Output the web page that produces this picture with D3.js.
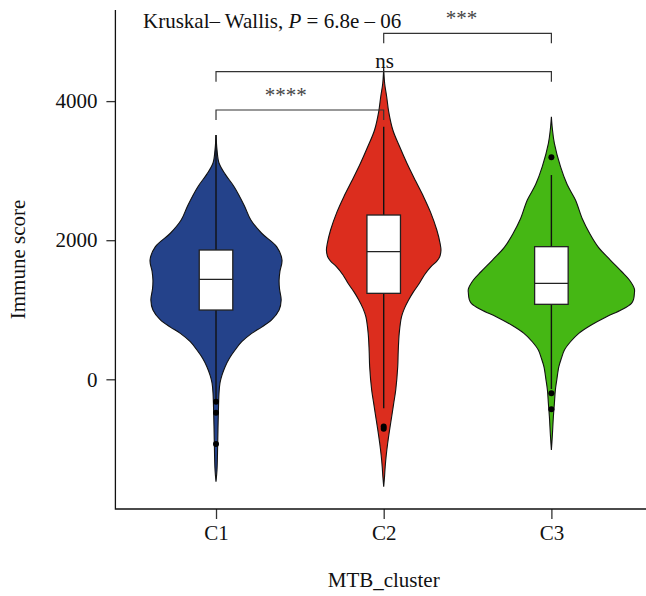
<!DOCTYPE html>
<html>
<head>
<meta charset="utf-8">
<script src="https://cdn.jsdelivr.net/npm/d3@7"></script>
<style>
  html, body { margin: 0; padding: 0; background: #fff; }
  svg { display: block; }
  text { font-family: "Liberation Serif", "DejaVu Serif", serif; }
</style>
</head>
<body>
<svg id="chart" width="646" height="596"></svg>
<script>
// ---- data -------------------------------------------------------------
const clusters = ["C1", "C2", "C3"];
const clusterColors = ["#24428a", "#dc2d1e", "#45b714"];
const yTicks = [0, 2000, 4000];

// relative violin density (0..1) at each Immune score value, per cluster
const densityC1 = [[3513,0],[3300,0.012],[3110,0.036],[2950,0.11],[2766,0.22],[2500,0.34],[2290,0.42],[2100,0.55],[1907,0.73],[1715,0.795],[1550,0.77],[1428,0.76],[1300,0.765],[1140,0.785],[996,0.76],[853,0.67],[750,0.55],[661,0.43],[540,0.31],[421,0.23],[300,0.16],[181,0.11],[60,0.072],[-53,0.048],[-200,0.036],[-400,0.03],[-700,0.024],[-1060,0.018],[-1300,0.012],[-1472,0]];
const densityC2 = [[4476,0],[4250,0.012],[4063,0.036],[3850,0.06],[3585,0.11],[3350,0.19],[3106,0.28],[2850,0.385],[2626,0.48],[2400,0.565],[2147,0.64],[1950,0.68],[1855,0.69],[1763,0.675],[1700,0.64],[1619,0.57],[1500,0.49],[1380,0.43],[1260,0.36],[1140,0.3],[1020,0.25],[900,0.215],[661,0.187],[400,0.175],[181,0.169],[-154,0.145],[-350,0.12],[-538,0.096],[-720,0.072],[-920,0.048],[-1100,0.03],[-1257,0.018],[-1400,0.01],[-1544,0]];
const densityC3 = [[3776,0],[3600,0.012],[3393,0.036],[3057,0.11],[2800,0.19],[2578,0.29],[2300,0.375],[2099,0.46],[1900,0.565],[1715,0.71],[1550,0.845],[1428,0.94],[1300,1.0],[1236,1.0],[1150,0.99],[1093,0.965],[1000,0.845],[900,0.665],[780,0.48],[661,0.33],[540,0.23],[421,0.157],[300,0.12],[181,0.09],[0,0.066],[-154,0.048],[-350,0.036],[-538,0.024],[-800,0.012],[-1017,0]];

// box-plot statistics: [lower whisker, Q1, median, Q3, upper whisker]
const boxC1 = [-290, 996, 1438, 1859, 3513];
const boxC2 = [-417, 1236, 1835, 2362, 3632];
const boxC3 = [-140, 1078, 1380, 1907, 2937];
const outliersC1 = [-322, -480, -930];
const outliersC2 = [-680, -712];
const outliersC3 = [3192, -202, -431];

// pairwise comparisons: [from, to, label] and bracket heights (Immune score units)
const comparisons = [["C1", "C2", "****"], ["C1", "C3", "ns"], ["C2", "C3", "***"]];
const bracketValues = [3872, 4423, 4975];
const testLabel = ["Kruskal\u2013 Wallis, ", "P", " = 6.8e \u2013 06"];

// ---- layout ------------------------------------------------------------
const svg = d3.select("#chart");
const plotLeft = 115.4, plotRight = 652, plotTop = 10, plotBottom = 509;
const fontSize = 21;

const x = d3.scalePoint().domain(clusters).range([plotLeft, plotRight]).padding(0.6);
const step = x.step();
const y = d3.scaleLinear().domain([-1865, 5310]).range([plotBottom, plotTop]);
const w = d3.scaleLinear().domain([0, 1]).range([0, 0.495 * step]);
const boxHalf = 0.1 * step;

const groups = clusters.map((c, i) => ({
  name: c,
  color: clusterColors[i],
  density: [densityC1, densityC2, densityC3][i],
  box: [boxC1, boxC2, boxC3][i],
  outliers: [outliersC1, outliersC2, outliersC3][i]
}));

// ---- violins -----------------------------------------------------------
const g = svg.append("g");
groups.forEach(d => {
  const cx = x(d.name);
  const area = d3.area()
    .y(p => y(p[0]))
    .x0(p => cx - w(p[1]))
    .x1(p => cx + w(p[1]))
    .curve(d3.curveCatmullRom.alpha(0.5));
  g.append("path")
    .attr("d", area(d.density))
    .attr("fill", d.color)
    .attr("stroke", "#111")
    .attr("stroke-width", 1.1);

  // whiskers
  g.append("line")
    .attr("x1", cx).attr("x2", cx)
    .attr("y1", y(d.box[3])).attr("y2", y(d.box[4]))
    .attr("stroke", "#111").attr("stroke-width", 1.4);
  g.append("line")
    .attr("x1", cx).attr("x2", cx)
    .attr("y1", y(d.box[1])).attr("y2", y(d.box[0]))
    .attr("stroke", "#111").attr("stroke-width", 1.4);

  // box
  g.append("rect")
    .attr("x", cx - boxHalf)
    .attr("y", y(d.box[3]))
    .attr("width", 2 * boxHalf)
    .attr("height", y(d.box[1]) - y(d.box[3]))
    .attr("fill", "#fff")
    .attr("stroke", "#222")
    .attr("stroke-width", 1.3);
  g.append("line")
    .attr("x1", cx - boxHalf).attr("x2", cx + boxHalf)
    .attr("y1", y(d.box[2])).attr("y2", y(d.box[2]))
    .attr("stroke", "#222").attr("stroke-width", 1.3);

  // outliers
  g.selectAll(null).data(d.outliers).enter().append("circle")
    .attr("cx", cx).attr("cy", v => y(v)).attr("r", 3)
    .attr("fill", "#000");
});

// ---- axes --------------------------------------------------------------
const yAxis = svg.append("g")
  .attr("transform", `translate(${plotLeft},0)`)
  .call(d3.axisLeft(y).tickValues(yTicks).tickSize(9).tickPadding(9).tickFormat(d3.format("d")));
const xAxis = svg.append("g")
  .attr("transform", `translate(0,${plotBottom})`)
  .call(d3.axisBottom(x).tickSize(10).tickPadding(6));

[yAxis, xAxis].forEach(a => {
  a.select(".domain").remove();
  a.selectAll(".tick line").attr("stroke", "#333").attr("stroke-width", 1.3);
  a.selectAll(".tick text").attr("fill", "#111")
    .style("font-family", "'Liberation Serif', serif").style("font-size", fontSize + "px");
});

// axis lines (open frame: left and bottom)
svg.append("path")
  .attr("d", d3.line()([[plotLeft, plotTop], [plotLeft, plotBottom], [646, plotBottom]]))
  .attr("fill", "none").attr("stroke", "#111").attr("stroke-width", 1.3);

// axis titles
svg.append("text")
  .attr("x", (plotLeft + plotRight) / 2).attr("y", 587)
  .attr("text-anchor", "middle").attr("font-size", fontSize).attr("fill", "#111")
  .text("MTB_cluster");
svg.append("text")
  .attr("transform", `translate(25,${(plotTop + plotBottom) / 2}) rotate(-90)`)
  .attr("text-anchor", "middle").attr("font-size", fontSize).attr("fill", "#111")
  .text("Immune score");

// ---- test label --------------------------------------------------------
const t = svg.append("text")
  .attr("x", 143).attr("y", 28)
  .attr("font-size", fontSize).attr("fill", "#111");
t.append("tspan").text(testLabel[0]);
t.append("tspan").attr("font-style", "italic").text(testLabel[1]);
t.append("tspan").text(testLabel[2]);

// ---- comparison brackets ----------------------------------------------
const labelShift = [-14, 1, -6];
comparisons.forEach((c, i) => {
  const x1 = x(c[0]), x2 = x(c[1]);
  const yb = y(bracketValues[i]);
  svg.append("path")
    .attr("d", d3.line()([[x1, yb + 10], [x1, yb], [x2, yb], [x2, yb + 10]]))
    .attr("fill", "none").attr("stroke", "#333").attr("stroke-width", 1.2);
  const isStars = c[2] !== "ns";
  svg.append("text")
    .attr("x", (x1 + x2) / 2 + labelShift[i])
    .attr("y", yb - (isStars ? 8.5 : 4))
    .attr("text-anchor", "middle")
    .attr("font-size", fontSize)
    .attr("fill", isStars ? "#444" : "#111")
    .text(c[2]);
});
</script>
</body>
</html>
